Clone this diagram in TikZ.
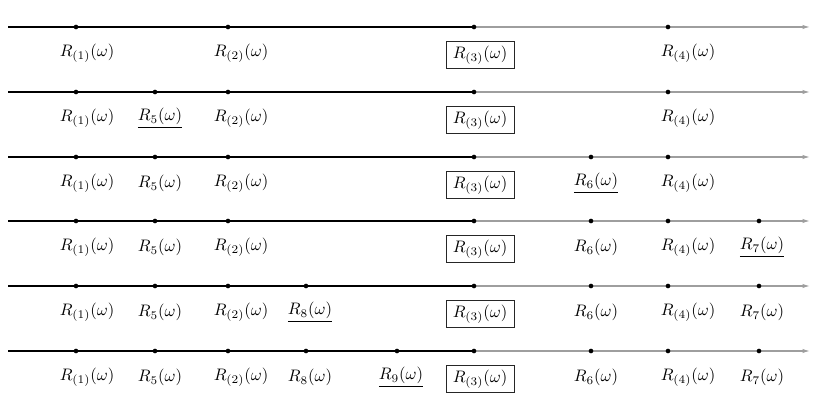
\documentclass[tikz,border=0pt]{standalone}
\usetikzlibrary{arrows.meta,backgrounds}
\newcommand\tick[6]{%
  \node[dotnode] (d#1-#2) at (#3,\ry) {};
  \node[#6] (l#1-#2) at (#4,\ry+26.5) {$#5$};}
\newcommand\axisrow[1]{%
  \coordinate (s#1) at (8,\ry);
  \coordinate (e#1) at (810,\ry);
  \begin{scope}[on background layer]
    \draw[axisdark] (s#1) -- (d#1-3.center);
    \draw[axislight] (d#1-3.center) -- (e#1);
  \end{scope}}
\begin{document}
\begin{tikzpicture}[x=0.6pt,y=-0.6pt,
  dotnode/.style={circle,fill=black,inner sep=0pt,minimum size=2.8pt},
  plainlab/.style={inner sep=1pt},
  boxlab/.style={draw=black!85,line width=0.5pt,inner xsep=4pt,inner ysep=2.4pt,yshift=-0.9pt},
  axisdark/.style={line width=0.7pt,black},
  axislight/.style={line width=0.7pt,black!38,-{Latex[length=4.5pt,width=2.6pt]}}]
\useasboundingbox (0,0) rectangle (817,405);

% Row 1
\def\ry{27}
\tick{1}{1}{76}{87}{R_{(1)}(\omega)}{plainlab}
\tick{1}{2}{228}{241}{R_{(2)}(\omega)}{plainlab}
\tick{1}{3}{474}{480}{R_{(3)}(\omega)}{boxlab}
\tick{1}{4}{668}{688}{R_{(4)}(\omega)}{plainlab}
\axisrow{1}

% Row 2
\def\ry{92}
\tick{2}{1}{76}{87}{R_{(1)}(\omega)}{plainlab}
\tick{2}{5}{155}{160}{\underline{R_5(\omega)}}{plainlab}
\tick{2}{2}{228}{241}{R_{(2)}(\omega)}{plainlab}
\tick{2}{3}{474}{480}{R_{(3)}(\omega)}{boxlab}
\tick{2}{4}{668}{688}{R_{(4)}(\omega)}{plainlab}
\axisrow{2}

% Row 3
\def\ry{157}
\tick{3}{1}{76}{87}{R_{(1)}(\omega)}{plainlab}
\tick{3}{5}{155}{160}{R_5(\omega)}{plainlab}
\tick{3}{2}{228}{241}{R_{(2)}(\omega)}{plainlab}
\tick{3}{3}{474}{480}{R_{(3)}(\omega)}{boxlab}
\tick{3}{6}{591}{596}{\underline{R_6(\omega)}}{plainlab}
\tick{3}{4}{668}{688}{R_{(4)}(\omega)}{plainlab}
\axisrow{3}

% Row 4
\def\ry{221}
\tick{4}{1}{76}{87}{R_{(1)}(\omega)}{plainlab}
\tick{4}{5}{155}{160}{R_5(\omega)}{plainlab}
\tick{4}{2}{228}{241}{R_{(2)}(\omega)}{plainlab}
\tick{4}{3}{474}{480}{R_{(3)}(\omega)}{boxlab}
\tick{4}{6}{591}{596}{R_6(\omega)}{plainlab}
\tick{4}{4}{668}{688}{R_{(4)}(\omega)}{plainlab}
\tick{4}{7}{759}{762}{\underline{R_7(\omega)}}{plainlab}
\axisrow{4}

% Row 5
\def\ry{286}
\tick{5}{1}{76}{87}{R_{(1)}(\omega)}{plainlab}
\tick{5}{5}{155}{160}{R_5(\omega)}{plainlab}
\tick{5}{2}{228}{241}{R_{(2)}(\omega)}{plainlab}
\tick{5}{8}{306}{310}{\underline{R_8(\omega)}}{plainlab}
\tick{5}{3}{474}{480}{R_{(3)}(\omega)}{boxlab}
\tick{5}{6}{591}{596}{R_6(\omega)}{plainlab}
\tick{5}{4}{668}{688}{R_{(4)}(\omega)}{plainlab}
\tick{5}{7}{759}{762}{R_7(\omega)}{plainlab}
\axisrow{5}

% Row 6
\def\ry{351}
\tick{6}{1}{76}{87}{R_{(1)}(\omega)}{plainlab}
\tick{6}{5}{155}{160}{R_5(\omega)}{plainlab}
\tick{6}{2}{228}{241}{R_{(2)}(\omega)}{plainlab}
\tick{6}{8}{306}{310}{R_8(\omega)}{plainlab}
\tick{6}{9}{397}{401}{\underline{R_9(\omega)}}{plainlab}
\tick{6}{3}{474}{480}{R_{(3)}(\omega)}{boxlab}
\tick{6}{6}{591}{596}{R_6(\omega)}{plainlab}
\tick{6}{4}{668}{688}{R_{(4)}(\omega)}{plainlab}
\tick{6}{7}{759}{762}{R_7(\omega)}{plainlab}
\axisrow{6}
\end{tikzpicture}
\end{document}
